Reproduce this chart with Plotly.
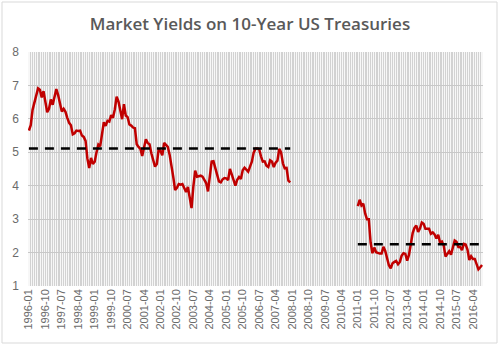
import numpy as np
import pandas as pd
import plotly.graph_objects as go

# Monthly categories 1996-01 .. 2016-09
months = [p.strftime("%Y-%m") for p in pd.period_range("1996-01", "2016-09", freq="M")]

# 10-year treasury yields, first period 1996-01 .. 2007-12
yields_1996_2007 = [
    5.65, 5.81, 6.27, 6.51, 6.74, 6.91, 6.87, 6.64, 6.83, 6.53, 6.20, 6.30,
    6.58, 6.42, 6.69, 6.89, 6.71, 6.49, 6.22, 6.30, 6.21, 6.03, 5.88, 5.81,
    5.54, 5.57, 5.65, 5.64, 5.65, 5.50, 5.46, 5.34, 4.81, 4.53, 4.83, 4.65,
    4.72, 5.00, 5.23, 5.18, 5.54, 5.90, 5.79, 5.94, 5.92, 6.11, 6.03, 6.28,
    6.66, 6.52, 6.26, 5.99, 6.44, 6.10, 6.05, 5.83, 5.80, 5.74, 5.72, 5.24,
    5.16, 5.10, 4.89, 5.14, 5.39, 5.28, 5.24, 4.97, 4.73, 4.57, 4.65, 5.09,
    5.04, 4.91, 5.28, 5.21, 5.16, 4.93, 4.65, 4.26, 3.87, 3.94, 4.05, 4.03,
    4.05, 3.90, 3.81, 3.96, 3.57, 3.33, 3.98, 4.45, 4.27, 4.29, 4.30, 4.27,
    4.15, 4.08, 3.83, 4.35, 4.72, 4.73, 4.50, 4.28, 4.13, 4.10, 4.19, 4.23,
    4.22, 4.17, 4.50, 4.34, 4.14, 4.00, 4.18, 4.26, 4.20, 4.46, 4.54, 4.47,
    4.42, 4.57, 4.72, 4.99, 5.11, 5.11, 5.09, 4.88, 4.72, 4.73, 4.60, 4.56,
    4.76, 4.72, 4.56, 4.69, 4.75, 5.10, 5.00, 4.67, 4.52, 4.53, 4.15, 4.10,
]
# second period 2011-01 .. 2016-09
yields_2011_2016 = [
    3.39, 3.58, 3.41, 3.46, 3.17, 3.00, 3.00, 2.30, 1.98, 2.15, 2.01, 1.98,
    1.97, 1.97, 2.17, 2.05, 1.80, 1.62, 1.53, 1.68, 1.72, 1.75, 1.65, 1.72,
    1.91, 1.98, 1.96, 1.76, 1.93, 2.30, 2.58, 2.74, 2.81, 2.62, 2.72, 2.90,
    2.86, 2.71, 2.72, 2.71, 2.56, 2.60, 2.54, 2.42, 2.53, 2.30, 2.33, 2.21,
    1.88, 1.98, 2.04, 1.94, 2.20, 2.36, 2.32, 2.17, 2.17, 2.07, 2.26, 2.24,
    2.09, 1.78, 1.89, 1.81, 1.81, 1.64, 1.50, 1.56, 1.63,
]
period1_months = months[months.index("1996-01"): months.index("2007-12") + 1]
period2_months = months[months.index("2011-01"):]

label_every = 9
tick_labels = [m if i % label_every == 0 else "" for i, m in enumerate(months)]

mean1 = float(np.mean(yields_1996_2007))
mean2 = float(np.mean(yields_2011_2016))

red = "#C00000"
fig = go.Figure()
fig.add_trace(go.Scatter(x=period1_months, y=yields_1996_2007, mode="lines",
                         line=dict(color=red, width=2.5), showlegend=False))
fig.add_trace(go.Scatter(x=period2_months, y=yields_2011_2016, mode="lines",
                         line=dict(color=red, width=2.5), showlegend=False))
fig.add_trace(go.Scatter(x=[period1_months[0], period1_months[-1]], y=[mean1, mean1], mode="lines",
                         line=dict(color="black", width=2.5, dash="9px,7px"), showlegend=False))
fig.add_trace(go.Scatter(x=[period2_months[0], period2_months[-1]], y=[mean2, mean2], mode="lines",
                         line=dict(color="black", width=2.5, dash="9px,7px"), showlegend=False))

W, H = 500, 346
ml, mr, mt, mb = 28, 17, 52, 60
pw, ph = W - ml - mr, H - mt - mb

fig.update_layout(
    width=W, height=H,
    margin=dict(l=ml, r=mr, t=mt, b=mb),
    paper_bgcolor="white", plot_bgcolor="#f7f7f7",
    title=dict(text="Market Yields on 10-Year US Treasuries", x=0.5, xanchor="center",
               y=1 - 24 / H, yanchor="middle",
               font=dict(family="Open Sans", size=17, color="#595959", weight=600)),
    xaxis=dict(type="category", categoryorder="array", categoryarray=months,
               range=[-0.5, len(months) - 0.5],
               tickmode="array", tickvals=months, ticktext=tick_labels,
               tickangle=-90, showgrid=True, gridcolor="#d2d2d2", gridwidth=1,
               ticks="", showline=False, zeroline=False,
               tickfont=dict(family="Liberation Sans", size=11, color="#6b6b6b")),
    yaxis=dict(range=[1, 8], dtick=1, showgrid=True, gridcolor="#c8c8c8", gridwidth=1,
               ticks="", showline=False, zeroline=False, ticklabelstandoff=8,
               tickfont=dict(family="Liberation Sans", size=12, color="#6b6b6b")),
    shapes=[dict(type="rect", xref="paper", yref="paper",
                 x0=(2 - ml) / pw, x1=(W - 3 - ml) / pw,
                 y0=-(H - 3 - mt - ph) / ph, y1=1 + (mt - 2) / ph,
                 line=dict(color="#d9d9d9", width=1), layer="below")],
)

fig.write_html("out.html")
